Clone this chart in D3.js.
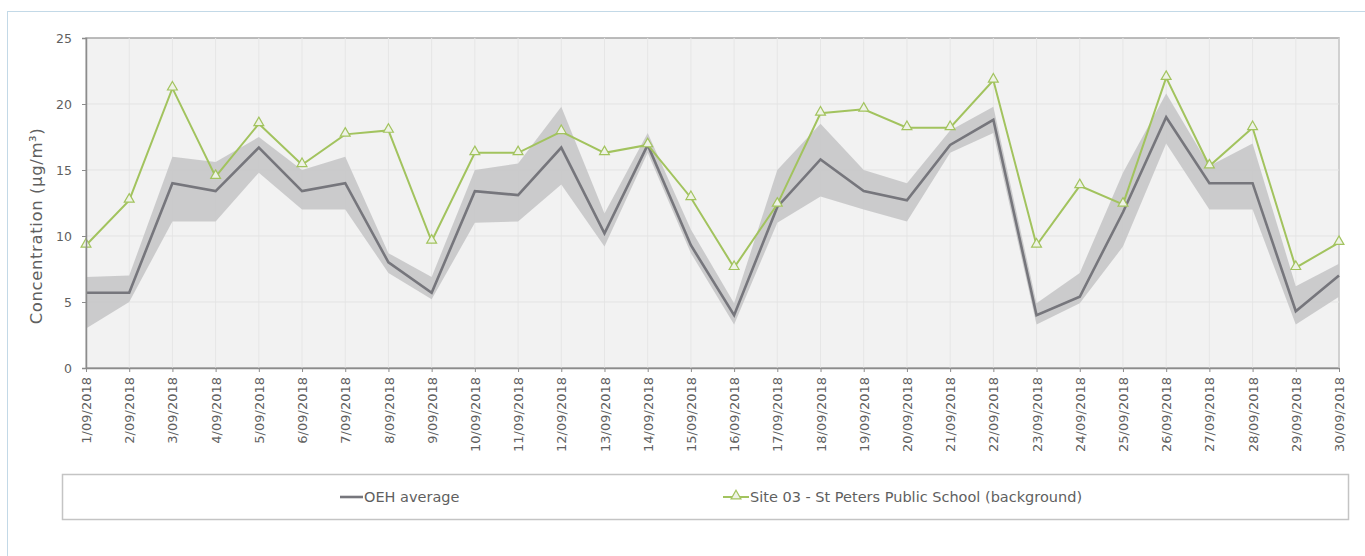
<!DOCTYPE html>
<html>
<head>
<meta charset="utf-8">
<script src="https://cdn.jsdelivr.net/npm/d3@7"></script>
<style>
  html, body { margin: 0; padding: 0; background: #fff; }
  svg { display: block; font-family: "DejaVu Sans", sans-serif; }
</style>
</head>
<body>
<svg id="chart" width="1365" height="556"></svg>
<script>
// dates along the x axis
const dates = d3.range(1, 31).map(d => d + '/09/2018');

// OEH average (grey line)
const oehAvg = [5.7, 5.7, 14.0, 13.4, 16.7, 13.4, 14.0, 8.0, 5.7, 13.4,
  13.1, 16.7, 10.2, 16.9, 9.3, 4.0, 12.2, 15.8, 13.4, 12.7,
  16.9, 18.8, 4.0, 5.4, 11.8, 19.0, 14.0, 14.0, 4.3, 7.0];

// OEH range (shaded band)
const oehMax = [6.9, 7.0, 16.0, 15.6, 17.5, 15.0, 16.0, 8.7, 6.9, 15.0,
  15.5, 19.8, 11.7, 17.8, 10.5, 4.9, 15.0, 18.5, 15.0, 14.0,
  18.0, 19.8, 4.9, 7.2, 14.8, 20.8, 15.3, 17.0, 6.2, 7.9];
const oehMin = [3.0, 5.0, 11.1, 11.1, 14.8, 12.0, 12.0, 7.2, 5.2, 11.0,
  11.1, 13.9, 9.2, 16.3, 8.7, 3.3, 11.0, 13.0, 12.0, 11.1,
  16.3, 17.8, 3.3, 4.9, 9.2, 17.0, 12.0, 12.0, 3.3, 5.4];

// Site 03 - St Peters Public School (background)
const site03 = [9.3, 12.7, 21.2, 14.5, 18.5, 15.4, 17.7, 18.0, 9.6, 16.3,
  16.3, 17.9, 16.3, 16.9, 12.9, 7.6, 12.4, 19.3, 19.6, 18.2,
  18.2, 21.8, 9.3, 13.8, 12.4, 22.0, 15.3, 18.2, 7.6, 9.5];

const yTicks = [0, 5, 10, 15, 20, 25];

const svg = d3.select('#chart');
const plotL = 86, plotR = 1339, plotT = 38, plotB = 368;
const textGrey = '#5f5f5f';
const avgColour = '#76767c';
const siteColour = '#a2c35e';

// outer frame
svg.append('rect')
  .attr('x', 7.5).attr('y', 11.5)
  .attr('width', 1400).attr('height', 600)
  .attr('fill', '#fff')
  .attr('stroke', '#c3d9e7');

const x = d3.scalePoint().domain(dates).range([plotL, plotR]);
const y = d3.scaleLinear().domain([0, 25]).range([plotB, plotT]);

// plot background
svg.append('rect')
  .attr('x', plotL).attr('y', plotT)
  .attr('width', plotR - plotL).attr('height', plotB - plotT)
  .attr('fill', '#f2f2f2')
  .attr('stroke', '#a6a6a6')
  .attr('stroke-width', 1.5);

// gridlines
svg.append('g')
  .selectAll('line')
  .data(dates)
  .join('line')
  .attr('x1', d => x(d)).attr('x2', d => x(d))
  .attr('y1', plotT).attr('y2', plotB)
  .attr('stroke', '#e6e6e6');

svg.append('g')
  .selectAll('line')
  .data(yTicks.slice(1, -1))
  .join('line')
  .attr('x1', plotL).attr('x2', plotR)
  .attr('y1', d => y(d)).attr('y2', d => y(d))
  .attr('stroke', '#e3e3e3');

const rows = dates.map((d, i) => ({ date: d, avg: oehAvg[i], lo: oehMin[i], hi: oehMax[i], site: site03[i] }));

// range band
svg.append('path')
  .datum(rows)
  .attr('fill', '#c6c6c8')
  .attr('opacity', 0.9)
  .attr('d', d3.area().x(d => x(d.date)).y0(d => y(d.lo)).y1(d => y(d.hi)));

// OEH average line
svg.append('path')
  .datum(rows)
  .attr('fill', 'none')
  .attr('stroke', avgColour)
  .attr('stroke-width', 2.6)
  .attr('d', d3.line().x(d => x(d.date)).y(d => y(d.avg)));

// site 03 line
svg.append('path')
  .datum(rows)
  .attr('fill', 'none')
  .attr('stroke', siteColour)
  .attr('stroke-width', 2)
  .attr('d', d3.line().x(d => x(d.date)).y(d => y(d.site)));

const tri = d3.symbol().type(d3.symbolTriangle).size(42);
svg.append('g')
  .selectAll('path')
  .data(rows)
  .join('path')
  .attr('transform', d => `translate(${x(d.date)},${y(d.site) - 1})`)
  .attr('d', tri)
  .attr('fill', '#eef2e6')
  .attr('stroke', siteColour)
  .attr('stroke-width', 1.2);

// axes
const yAxis = svg.append('g')
  .attr('transform', `translate(${plotL},0)`)
  .call(d3.axisLeft(y).tickValues(yTicks).tickSize(4).tickPadding(10));
yAxis.attr('font-family', null).attr('font-size', null);
yAxis.select('.domain').attr('stroke', '#8c8c8c').attr('stroke-width', 1.5);
yAxis.selectAll('.tick line').attr('stroke', '#8c8c8c');
yAxis.selectAll('.tick text').attr('fill', textGrey).style('font-size', '12.5px');

const xAxis = svg.append('g')
  .attr('transform', `translate(0,${plotB})`)
  .call(d3.axisBottom(x).tickSize(4).tickSizeOuter(0));
xAxis.attr('font-family', null).attr('font-size', null);
xAxis.select('.domain').attr('stroke', '#8c8c8c').attr('stroke-width', 1.5);
xAxis.selectAll('.tick line').attr('stroke', '#8c8c8c');
xAxis.selectAll('.tick text')
  .attr('fill', textGrey)
  .style('font-size', '13px')
  .attr('transform', 'rotate(-90)')
  .attr('text-anchor', 'end')
  .attr('x', -9)
  .attr('y', 0)
  .attr('dy', '0.35em');

// y axis title
svg.append('text')
  .attr('transform', 'translate(42,226) rotate(-90)')
  .attr('text-anchor', 'middle')
  .attr('fill', textGrey)
  .style('font-size', '16.5px')
  .style('letter-spacing', '0.6px')
  .text('Concentration (µg/m³)');

// legend
svg.append('rect')
  .attr('x', 62.5).attr('y', 474.5)
  .attr('width', 1286).attr('height', 45)
  .attr('fill', '#fff')
  .attr('stroke', '#c4c4c4')
  .attr('stroke-width', 1.5);

const lg = svg.append('g');
lg.append('line')
  .attr('x1', 340).attr('x2', 363).attr('y1', 497).attr('y2', 497)
  .attr('stroke', avgColour).attr('stroke-width', 2.6);
lg.append('text')
  .attr('x', 364).attr('y', 497).attr('dy', '0.35em')
  .attr('fill', textGrey).style('font-size', '14.5px')
  .text('OEH average');

lg.append('line')
  .attr('x1', 723).attr('x2', 749).attr('y1', 497).attr('y2', 497)
  .attr('stroke', siteColour).attr('stroke-width', 2);
lg.append('path')
  .attr('transform', 'translate(736,496)')
  .attr('d', tri)
  .attr('fill', '#eef2e6')
  .attr('stroke', siteColour)
  .attr('stroke-width', 1.2);
lg.append('text')
  .attr('x', 750).attr('y', 497).attr('dy', '0.35em')
  .attr('fill', textGrey).style('font-size', '14.5px')
  .text('Site 03 - St Peters Public School (background)');
</script>
</body>
</html>
